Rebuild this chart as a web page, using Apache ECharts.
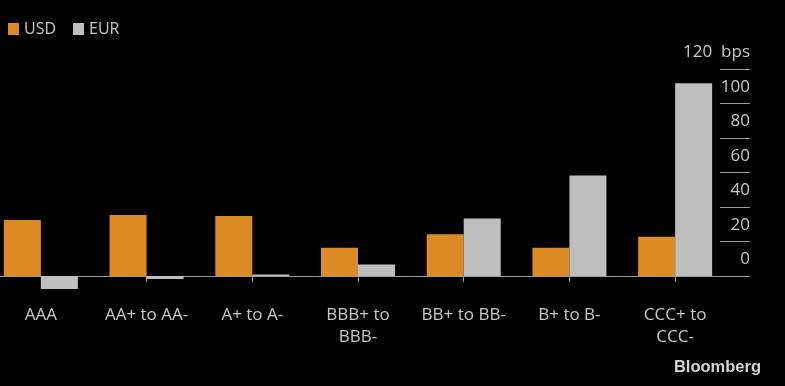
<!DOCTYPE html>
<html>
<head>
<meta charset="utf-8">
<script src="https://cdn.jsdelivr.net/npm/echarts@6/dist/echarts.min.js"></script>
<style>html,body{margin:0;padding:0;background:#000;overflow:hidden;}#wrap{position:relative;width:785px;height:386px;overflow:hidden;}#c{position:absolute;left:-12px;top:0;width:797px;height:386px;}</style>
</head>
<body>
<div id="wrap"><div id="c"></div></div>
<script>
const categories = ['AAA', 'AA+ to AA-', 'A+ to A-', 'BBB+ to\nBBB-', 'BB+ to BB-', 'B+ to B-', 'CCC+ to\nCCC-'];
const usd = [32.5, 35.4, 34.8, 16.4, 24.2, 16.4, 22.8];
const eur = [-7.5, -1.7, 0.8, 6.6, 33.4, 58.2, 111.7];
const yTicks = [0, 20, 40, 60, 80, 100, 120];
const unit = 'bps';

const FONT = '"Open Sans", "Noto Sans", sans-serif';
const TXT = '#c8c8c8';
const chart = echarts.init(document.getElementById('c'), null, {renderer: 'canvas'});
chart.setOption({
  backgroundColor: '#000',
  animation: false,
  textStyle: {fontFamily: FONT},
  legend: {
    left: 15, top: 16, icon: 'rect', itemWidth: 11, itemHeight: 12, itemGap: 17,
    textStyle: {color: TXT, fontSize: 16, fontFamily: FONT},
    data: ['USD', 'EUR']
  },
  grid: {left: 0, right: 57, top: 69, bottom: 110, containLabel: false},
  xAxis: [{
    type: 'category', data: categories, position: 'bottom',
    axisLine: {show: true, onZero: false, lineStyle: {color: '#9a9a9a', width: 1}},
    axisTick: {show: false}, axisLabel: {show: false}
  }, {
    type: 'category', data: categories, position: 'bottom', offset: 17,
    axisLine: {show: false},
    axisTick: {show: true, alignWithLabel: true, length: 6, lineStyle: {color: '#9a9a9a'}},
    axisLabel: {color: TXT, fontSize: 17, fontFamily: FONT, margin: 11, lineHeight: 22, interval: 0}
  }],
  yAxis: {
    type: 'value', position: 'right', offset: -8,
    min: yTicks[0], max: yTicks[yTicks.length - 1], interval: 20,
    axisLine: {show: false}, splitLine: {show: false},
    axisTick: {show: true, length: 30, lineStyle: {color: '#9a9a9a'}},
    axisLabel: {
      color: TXT, fontSize: 17, fontFamily: FONT, align: 'right', margin: 30,
      verticalAlign: 'bottom', padding: [0, 0, 8, 0],
      formatter: v => v === yTicks[yTicks.length - 1] ? v + '  ' + unit : String(v)
    }
  },
  series: [{
    name: 'USD', type: 'bar', data: usd, clip: false, barGap: '0%', barCategoryGap: '30%',
    itemStyle: {color: '#dc8a26'}
  }, {
    name: 'EUR', type: 'bar', data: eur, clip: false, barGap: '0%', barCategoryGap: '30%',
    itemStyle: {color: '#bfbfbf'}
  }],
  graphic: [{
    type: 'text', right: 24, top: 359,
    style: {text: 'Bloomberg', fill: '#d4d4d4', font: 'bold 16.5px "Liberation Sans", Arial, sans-serif'}
  }]
});
</script>
</body>
</html>
